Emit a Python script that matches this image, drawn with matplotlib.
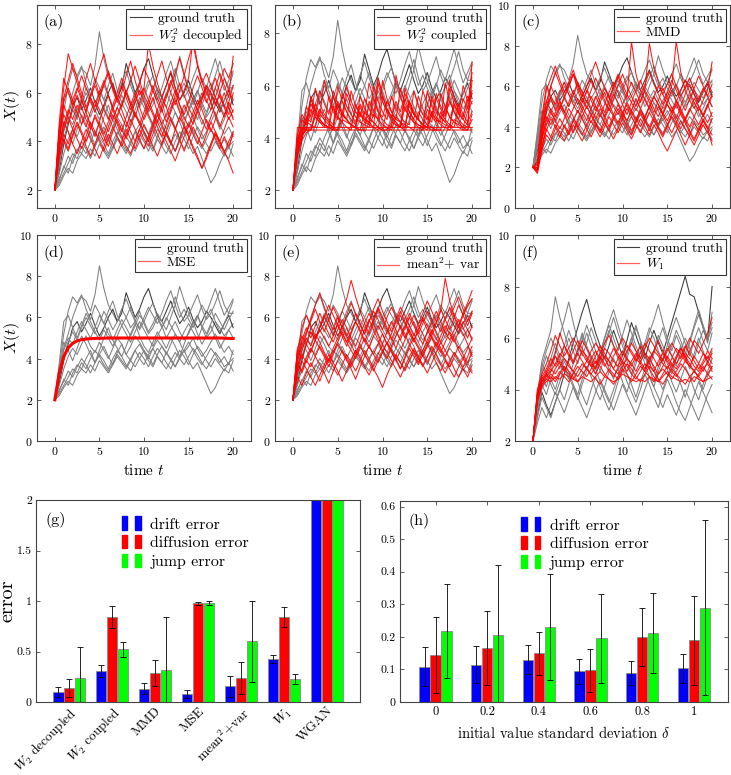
import numpy as np
import matplotlib
matplotlib.use("Agg")
import matplotlib.pyplot as plt
from matplotlib.lines import Line2D
from matplotlib.patches import Patch
from matplotlib.legend_handler import HandlerTuple

plt.rcParams['font.family'] = 'serif'
plt.rcParams['font.serif'] = ['cmr10']
plt.rcParams['mathtext.fontset'] = 'cm'
plt.rcParams['axes.formatter.use_mathtext'] = True

DT = 0.5  # sample spacing of the trajectories (time units)

# ---- trajectories, values x10, sampled every 0.5 time units on [0, 20] ----
# ground truth used in panels (a)-(e); index 1 is the dark one
gt_paths = [
    [20, 31, 45, 52, 60, 66, 70, 68, 63, 71, 85, 74, 66, 62, 58, 64, 60, 55, 58, 63, 57, 52, 55, 60, 56, 50, 54, 58, 53, 49, 52, 57, 61, 55, 50, 53, 58, 55, 51, 54, 57],
    [20, 28, 39, 47, 55, 58, 53, 57, 62, 56, 51, 55, 60, 64, 58, 62, 72, 66, 60, 64, 70, 74, 67, 61, 58, 63, 68, 62, 57, 60, 65, 59, 55, 58, 63, 60, 56, 52, 57, 61, 55],
    [20, 24, 30, 27, 33, 37, 35, 40, 44, 38, 42, 46, 41, 37, 43, 47, 42, 39, 44, 40, 37, 42, 45, 41, 38, 43, 40, 36, 41, 44, 39, 35, 38, 33, 28, 23, 26, 31, 35, 33, 39],
    [20, 36, 52, 63, 70, 67, 71, 64, 59, 66, 62, 57, 63, 68, 61, 56, 60, 65, 59, 54, 58, 63, 67, 60, 55, 59, 64, 70, 63, 58, 61, 66, 71, 64, 59, 62, 67, 73, 66, 62, 68],
    [20, 27, 35, 41, 45, 42, 47, 51, 46, 43, 48, 44, 40, 45, 50, 47, 42, 46, 51, 48, 44, 40, 45, 49, 46, 42, 47, 52, 48, 43, 46, 50, 45, 41, 44, 48, 52, 47, 43, 46, 42],
    [20, 33, 44, 50, 47, 53, 58, 54, 50, 55, 61, 57, 52, 49, 54, 59, 55, 51, 56, 61, 58, 53, 57, 62, 58, 54, 60, 66, 75, 68, 62, 57, 61, 56, 52, 57, 62, 58, 54, 59, 63],
    [20, 25, 29, 34, 31, 36, 40, 37, 33, 38, 42, 39, 35, 40, 44, 41, 37, 34, 39, 43, 40, 36, 41, 45, 42, 38, 35, 40, 44, 41, 37, 42, 46, 43, 39, 36, 40, 37, 34, 38, 34],
    [20, 30, 41, 48, 53, 49, 55, 60, 56, 52, 57, 63, 59, 54, 58, 64, 69, 63, 58, 55, 60, 65, 61, 57, 62, 68, 73, 66, 60, 64, 59, 55, 60, 66, 62, 68, 74, 67, 61, 65, 69],
    [20, 34, 48, 44, 39, 45, 51, 47, 42, 38, 44, 50, 55, 49, 45, 41, 46, 52, 57, 51, 46, 43, 48, 53, 49, 45, 50, 46, 41, 47, 53, 58, 52, 47, 51, 56, 50, 45, 49, 54, 50],
    [20, 23, 27, 31, 35, 33, 38, 35, 40, 44, 41, 37, 34, 38, 42, 39, 36, 40, 44, 47, 43, 39, 36, 41, 38, 35, 39, 43, 40, 37, 41, 45, 42, 38, 35, 39, 43, 40, 36, 38, 40],
    [20, 38, 58, 61, 55, 50, 56, 62, 58, 53, 49, 54, 50, 46, 51, 56, 52, 48, 53, 58, 54, 50, 46, 51, 55, 60, 56, 52, 48, 53, 57, 53, 49, 55, 60, 64, 58, 53, 57, 62, 62],
    [20, 22, 26, 29, 27, 32, 35, 33, 37, 34, 39, 36, 33, 37, 41, 38, 35, 39, 36, 40, 44, 41, 37, 42, 46, 43, 39, 36, 40, 44, 48, 44, 40, 37, 41, 45, 42, 38, 41, 37, 44],
]

# (a) W2^2 decoupled
red_a = [
    [20, 46, 62, 76, 70, 64, 58, 66, 72, 65, 59, 63, 68, 61, 56, 60, 67, 73, 65, 59, 62, 80, 71, 64, 58, 63, 69, 62, 57, 61, 66, 82, 72, 65, 60, 56, 62, 68, 63, 58, 75],
    [20, 33, 41, 37, 43, 48, 44, 40, 45, 50, 46, 42, 38, 44, 49, 45, 41, 47, 52, 48, 44, 40, 46, 51, 47, 43, 39, 45, 50, 46, 42, 37, 33, 29, 34, 39, 44, 40, 36, 32, 27],
    [20, 41, 55, 50, 45, 51, 57, 52, 47, 42, 48, 54, 59, 53, 48, 44, 50, 55, 60, 54, 49, 53, 58, 52, 47, 51, 56, 61, 55, 50, 46, 52, 57, 53, 48, 44, 49, 55, 60, 54, 49],
    [20, 37, 48, 44, 39, 35, 40, 45, 41, 37, 33, 38, 43, 39, 35, 40, 45, 41, 37, 42, 47, 43, 38, 34, 39, 44, 40, 36, 41, 46, 42, 38, 34, 29, 33, 38, 43, 39, 35, 40, 44],
    [20, 44, 58, 65, 72, 66, 60, 54, 59, 64, 70, 76, 68, 62, 57, 63, 58, 53, 58, 64, 70, 66, 61, 67, 73, 66, 60, 55, 61, 67, 74, 80, 71, 64, 68, 63, 58, 64, 70, 66, 72],
    [20, 39, 47, 53, 49, 55, 50, 46, 52, 57, 53, 48, 44, 49, 54, 50, 46, 51, 56, 61, 56, 51, 47, 53, 58, 54, 49, 45, 50, 55, 51, 47, 52, 57, 62, 56, 51, 46, 51, 56, 52],
    [20, 35, 43, 39, 45, 41, 37, 42, 48, 44, 40, 36, 41, 46, 42, 38, 43, 49, 45, 41, 37, 42, 47, 43, 39, 44, 49, 45, 41, 36, 41, 46, 42, 38, 43, 48, 44, 40, 45, 50, 46],
    [20, 48, 66, 60, 55, 61, 67, 62, 57, 52, 58, 64, 69, 63, 58, 54, 60, 65, 71, 65, 59, 55, 61, 56, 52, 58, 63, 68, 74, 67, 61, 57, 53, 58, 63, 59, 55, 60, 66, 61, 57],
    [20, 42, 51, 47, 53, 59, 54, 49, 45, 51, 47, 43, 48, 53, 58, 53, 48, 44, 40, 45, 50, 55, 51, 46, 42, 47, 52, 57, 52, 47, 43, 48, 53, 49, 45, 50, 55, 59, 54, 49, 53],
    [20, 38, 45, 51, 57, 62, 57, 52, 58, 54, 60, 65, 59, 54, 50, 55, 61, 56, 51, 47, 52, 57, 63, 58, 53, 48, 53, 59, 64, 59, 54, 50, 55, 60, 56, 61, 66, 60, 55, 51, 60],
    [20, 45, 40, 36, 42, 47, 43, 38, 34, 39, 44, 40, 46, 51, 47, 42, 38, 35, 40, 45, 41, 38, 43, 48, 44, 40, 36, 32, 37, 42, 47, 43, 39, 44, 49, 45, 41, 37, 42, 38, 43],
    [20, 43, 56, 62, 57, 52, 47, 53, 58, 63, 58, 53, 49, 55, 60, 66, 60, 55, 50, 56, 62, 57, 52, 48, 54, 59, 65, 60, 55, 51, 56, 62, 67, 62, 57, 53, 58, 54, 50, 56, 63],
]

# (b) W2^2 coupled
red_b = [
    [20, 39, 43, 43, 43, 43, 43, 43, 43, 43, 43, 43, 43, 43, 43, 43, 43, 43, 43, 43, 43, 43, 43, 43, 43, 43, 43, 43, 43, 43, 43, 43, 43, 43, 43, 43, 43, 43, 43, 43, 43],
    [20, 44, 44, 44, 44, 44, 44, 44, 44, 44, 44, 44, 44, 44, 44, 44, 44, 44, 44, 44, 44, 44, 44, 44, 44, 44, 44, 44, 44, 44, 44, 44, 44, 44, 44, 44, 44, 44, 44, 44, 44],
    [20, 35, 41, 43, 51, 48, 46, 44, 56, 51, 48, 46, 44, 43, 53, 49, 46, 45, 44, 61, 54, 50, 47, 45, 44, 52, 48, 46, 44, 43, 58, 52, 48, 46, 45, 44, 55, 50, 47, 45, 62],
    [20, 33, 39, 42, 43, 49, 47, 45, 44, 58, 53, 49, 47, 45, 44, 50, 47, 46, 55, 50, 47, 45, 44, 64, 56, 51, 48, 46, 45, 44, 51, 48, 46, 57, 52, 48, 46, 45, 44, 50, 54],
    [20, 37, 42, 48, 46, 53, 49, 47, 45, 44, 60, 54, 50, 47, 45, 52, 48, 46, 44, 43, 56, 51, 48, 46, 44, 59, 53, 49, 47, 45, 44, 50, 47, 46, 61, 54, 50, 47, 45, 44, 69],
    [20, 36, 41, 43, 55, 50, 47, 45, 44, 52, 48, 46, 57, 52, 48, 46, 45, 44, 49, 47, 62, 55, 50, 47, 46, 44, 54, 49, 47, 45, 44, 56, 51, 48, 46, 44, 53, 49, 60, 54, 58],
    [20, 38, 43, 46, 45, 44, 51, 48, 46, 44, 43, 47, 46, 45, 44, 43, 43, 54, 50, 47, 45, 44, 43, 48, 46, 45, 44, 43, 50, 47, 45, 44, 43, 43, 52, 48, 46, 44, 43, 43, 47],
    [20, 34, 40, 52, 48, 59, 53, 49, 47, 45, 54, 50, 47, 58, 52, 49, 47, 45, 60, 54, 50, 47, 56, 51, 48, 46, 45, 58, 52, 49, 47, 55, 50, 48, 46, 59, 53, 49, 47, 52, 65],
    [20, 40, 44, 43, 43, 48, 46, 45, 44, 43, 53, 49, 47, 45, 44, 43, 50, 47, 46, 44, 43, 43, 46, 45, 44, 55, 50, 47, 45, 44, 43, 49, 47, 45, 44, 43, 47, 46, 44, 43, 49],
    [20, 36, 47, 45, 56, 51, 48, 62, 55, 50, 47, 57, 52, 49, 46, 53, 49, 61, 55, 50, 48, 54, 50, 47, 59, 53, 50, 47, 56, 51, 48, 46, 57, 52, 49, 54, 50, 47, 55, 51, 57],
    [20, 35, 41, 44, 43, 50, 47, 45, 44, 43, 43, 49, 47, 45, 44, 56, 51, 48, 46, 44, 43, 51, 48, 46, 44, 43, 54, 50, 47, 45, 44, 43, 43, 50, 47, 45, 44, 53, 49, 46, 50],
    [20, 41, 49, 46, 53, 50, 58, 53, 49, 56, 51, 48, 60, 54, 50, 48, 55, 51, 48, 63, 56, 51, 48, 54, 50, 57, 52, 49, 47, 58, 53, 49, 55, 51, 48, 62, 55, 51, 48, 56, 53],
]

# (c) MMD
red_c = [
    [20, 18, 35, 52, 60, 55, 49, 54, 60, 66, 58, 52, 57, 63, 58, 52, 47, 53, 59, 65, 59, 54, 82, 66, 58, 53, 49, 55, 60, 56, 51, 47, 52, 58, 63, 57, 52, 48, 53, 58, 72],
    [20, 19, 30, 41, 47, 43, 39, 44, 49, 45, 40, 36, 41, 46, 42, 38, 44, 49, 45, 41, 46, 51, 47, 43, 48, 44, 40, 45, 50, 46, 41, 37, 42, 47, 43, 38, 34, 39, 44, 40, 36],
    [20, 22, 42, 58, 64, 70, 63, 57, 62, 68, 61, 55, 60, 66, 72, 65, 59, 54, 60, 66, 61, 56, 62, 57, 52, 58, 81, 69, 62, 56, 61, 66, 60, 55, 59, 64, 58, 53, 58, 62, 57],
    [20, 17, 28, 36, 33, 39, 44, 40, 36, 41, 37, 33, 38, 43, 39, 35, 40, 45, 41, 37, 42, 38, 34, 39, 44, 40, 36, 41, 37, 32, 28, 33, 38, 43, 39, 35, 31, 36, 41, 37, 33],
    [20, 20, 38, 49, 55, 51, 57, 62, 56, 51, 47, 52, 58, 53, 48, 54, 59, 55, 50, 46, 51, 56, 52, 48, 53, 58, 54, 49, 45, 50, 55, 60, 82, 67, 58, 53, 49, 54, 59, 55, 50],
    [20, 18, 33, 45, 41, 47, 52, 48, 44, 49, 54, 50, 46, 42, 47, 52, 57, 51, 46, 42, 47, 52, 48, 44, 40, 45, 50, 55, 51, 47, 43, 48, 53, 49, 44, 40, 45, 50, 46, 42, 47],
    [20, 21, 40, 53, 48, 43, 49, 55, 61, 66, 60, 54, 49, 55, 50, 45, 51, 57, 62, 57, 51, 46, 52, 58, 63, 57, 52, 47, 53, 59, 54, 49, 44, 50, 56, 61, 56, 50, 45, 51, 56],
    [20, 19, 31, 38, 44, 40, 35, 41, 37, 43, 48, 44, 39, 35, 40, 46, 42, 38, 34, 39, 44, 49, 45, 41, 37, 42, 47, 43, 39, 35, 40, 45, 41, 36, 31, 36, 42, 38, 43, 39, 31],
    [20, 20, 36, 47, 60, 67, 61, 55, 50, 56, 62, 57, 52, 58, 64, 59, 53, 48, 54, 60, 66, 60, 55, 50, 56, 61, 67, 61, 56, 51, 57, 63, 58, 53, 48, 54, 59, 65, 60, 55, 61],
    [20, 18, 34, 43, 49, 45, 50, 46, 41, 37, 43, 48, 53, 48, 44, 49, 45, 40, 46, 51, 47, 42, 38, 43, 49, 54, 49, 45, 41, 46, 51, 47, 43, 39, 44, 49, 45, 41, 46, 51, 45],
    [20, 23, 45, 60, 54, 48, 53, 47, 52, 58, 53, 48, 43, 49, 55, 50, 45, 50, 56, 52, 47, 43, 48, 54, 49, 44, 50, 55, 51, 46, 52, 58, 53, 48, 43, 48, 54, 50, 45, 50, 55],
    [20, 19, 29, 39, 35, 41, 37, 33, 38, 43, 39, 45, 50, 46, 41, 37, 42, 38, 44, 49, 45, 40, 36, 42, 47, 43, 38, 44, 40, 36, 41, 46, 51, 46, 42, 37, 33, 38, 43, 39, 44],
]

# (d) MSE: every predicted path collapses onto one curve
mse_path = [20.0, 33.0, 41.0, 45.2, 47.4, 48.6, 49.2, 49.5, 49.7, 49.8, 49.9, 49.9, 50.0, 50.0, 50.0, 50.0, 50.0, 50.0, 50.0, 50.0, 50.0,
            50.0, 50.0, 50.0, 50.0, 50.0, 50.0, 50.0, 50.0, 50.0, 50.0, 50.0, 50.0, 50.0, 50.0, 50.0, 50.0, 50.0, 49.9, 49.8, 49.8]

# (e) mean^2 + var
red_e = [
    [20, 44, 40, 47, 53, 49, 55, 61, 56, 51, 57, 63, 69, 78, 70, 63, 57, 52, 58, 64, 59, 54, 49, 55, 61, 57, 52, 48, 54, 60, 56, 51, 57, 63, 79, 68, 61, 56, 62, 67, 73],
    [20, 31, 27, 33, 38, 34, 29, 35, 40, 36, 32, 37, 42, 38, 34, 39, 44, 40, 35, 31, 26, 32, 37, 42, 38, 34, 39, 44, 40, 36, 41, 46, 42, 37, 33, 38, 43, 39, 35, 31, 37],
    [20, 39, 46, 52, 58, 64, 58, 53, 59, 65, 60, 55, 61, 67, 62, 57, 52, 58, 64, 69, 63, 58, 53, 59, 65, 61, 56, 51, 57, 62, 68, 63, 58, 53, 59, 65, 60, 55, 61, 66, 69],
    [20, 35, 42, 38, 44, 49, 45, 41, 36, 42, 47, 43, 39, 35, 30, 36, 41, 46, 42, 38, 43, 48, 44, 40, 35, 41, 46, 50, 46, 42, 38, 43, 48, 44, 40, 36, 41, 46, 42, 38, 43],
    [20, 42, 49, 55, 50, 56, 62, 57, 52, 48, 54, 59, 55, 50, 46, 52, 57, 62, 57, 52, 47, 53, 58, 54, 49, 55, 60, 56, 51, 47, 53, 58, 63, 58, 53, 49, 54, 59, 55, 50, 56],
    [20, 37, 33, 39, 36, 41, 46, 42, 38, 43, 48, 53, 48, 44, 40, 45, 50, 46, 42, 47, 52, 47, 43, 39, 44, 49, 54, 49, 45, 41, 46, 51, 47, 43, 48, 53, 49, 44, 40, 45, 50],
    [20, 40, 48, 53, 59, 66, 72, 65, 59, 54, 60, 55, 51, 56, 62, 57, 52, 58, 63, 59, 54, 60, 65, 60, 55, 50, 56, 61, 56, 52, 47, 53, 58, 64, 59, 54, 60, 66, 61, 56, 62],
    [20, 33, 39, 35, 31, 27, 32, 37, 42, 38, 34, 29, 34, 39, 44, 40, 36, 32, 37, 42, 47, 43, 39, 35, 31, 36, 41, 45, 41, 37, 33, 38, 43, 48, 44, 40, 35, 31, 36, 41, 46],
    [20, 45, 51, 47, 43, 49, 54, 50, 46, 51, 57, 52, 48, 53, 58, 54, 49, 45, 51, 56, 52, 47, 52, 58, 63, 58, 53, 49, 54, 59, 54, 50, 46, 51, 56, 52, 48, 53, 58, 54, 49],
    [20, 36, 44, 50, 46, 52, 48, 43, 39, 45, 50, 56, 51, 47, 42, 48, 54, 59, 54, 49, 44, 40, 46, 51, 56, 52, 47, 43, 38, 44, 49, 54, 50, 45, 41, 46, 51, 56, 52, 47, 41],
    [20, 43, 55, 61, 56, 50, 55, 60, 66, 61, 56, 51, 46, 52, 58, 53, 48, 54, 59, 65, 60, 55, 50, 45, 51, 56, 62, 57, 52, 57, 63, 58, 53, 48, 54, 60, 65, 70, 64, 58, 63],
    [20, 38, 34, 40, 45, 41, 37, 33, 28, 34, 39, 44, 40, 36, 41, 46, 42, 38, 34, 39, 43, 48, 44, 39, 35, 40, 45, 41, 37, 42, 47, 43, 38, 34, 39, 35, 31, 36, 40, 36, 33],
]

# (f) separate ground truth set (index 0 is the dark one) and W1 model
gt_f = [
    [20, 30, 39, 34, 30, 35, 40, 46, 52, 58, 64, 70, 75, 68, 62, 57, 52, 57, 63, 58, 53, 59, 66, 61, 56, 52, 58, 63, 58, 54, 60, 66, 72, 78, 84, 77, 76, 70, 64, 59, 80],
    [20, 38, 51, 57, 63, 76, 68, 62, 56, 50, 55, 61, 56, 51, 46, 52, 58, 63, 57, 52, 48, 54, 60, 65, 59, 53, 48, 54, 59, 64, 58, 53, 49, 55, 60, 56, 52, 58, 63, 59, 64],
    [20, 27, 33, 29, 34, 39, 35, 31, 36, 41, 37, 33, 29, 34, 39, 44, 40, 36, 32, 37, 42, 38, 34, 30, 35, 40, 45, 41, 37, 33, 38, 34, 30, 35, 40, 36, 32, 28, 33, 38, 42],
    [20, 35, 47, 53, 49, 55, 61, 67, 74, 66, 59, 53, 58, 64, 59, 54, 60, 66, 71, 65, 59, 54, 60, 55, 50, 56, 62, 67, 73, 66, 60, 55, 61, 57, 52, 58, 64, 69, 64, 58, 70],
    [20, 32, 42, 38, 44, 40, 46, 51, 47, 42, 38, 44, 49, 45, 40, 36, 41, 47, 52, 48, 43, 39, 45, 50, 55, 50, 45, 41, 47, 52, 48, 43, 39, 44, 49, 45, 40, 36, 42, 47, 52],
    [20, 36, 49, 55, 60, 56, 51, 57, 63, 58, 53, 59, 65, 60, 55, 50, 56, 62, 68, 62, 57, 52, 58, 64, 59, 54, 50, 55, 61, 57, 52, 57, 63, 59, 54, 59, 65, 71, 65, 60, 66],
    [20, 29, 37, 33, 29, 35, 40, 36, 42, 47, 43, 38, 34, 40, 45, 41, 36, 32, 37, 43, 48, 43, 39, 35, 40, 46, 42, 37, 33, 39, 44, 40, 35, 31, 28, 33, 38, 43, 39, 35, 31],
    [20, 34, 45, 41, 47, 53, 48, 54, 60, 55, 50, 56, 62, 57, 52, 47, 53, 48, 44, 49, 55, 51, 46, 52, 58, 53, 48, 43, 49, 55, 50, 46, 52, 57, 53, 48, 54, 60, 55, 50, 55],
    [20, 31, 40, 46, 42, 38, 43, 49, 45, 41, 36, 42, 47, 52, 48, 43, 39, 35, 40, 45, 51, 46, 42, 37, 43, 48, 53, 48, 44, 40, 45, 50, 46, 42, 37, 43, 48, 44, 40, 45, 49],
    [20, 37, 50, 46, 52, 58, 53, 48, 44, 50, 56, 62, 57, 52, 48, 54, 60, 65, 60, 55, 61, 67, 62, 57, 52, 58, 64, 60, 55, 51, 57, 63, 68, 63, 58, 53, 59, 64, 59, 55, 62],
]
red_f = [
    [20, 38, 43, 45, 47, 50, 54, 52, 49, 47, 51, 55, 53, 50, 48, 52, 56, 54, 51, 49, 53, 57, 55, 52, 50, 47, 51, 55, 53, 50, 48, 52, 56, 54, 51, 55, 59, 57, 54, 52, 56],
    [20, 36, 42, 44, 43, 45, 44, 46, 45, 44, 43, 45, 44, 43, 45, 47, 45, 44, 43, 44, 46, 45, 44, 43, 44, 43, 45, 44, 43, 45, 47, 45, 44, 43, 44, 43, 45, 44, 43, 44, 45],
    [20, 40, 46, 50, 55, 61, 57, 53, 56, 60, 57, 54, 51, 55, 58, 55, 52, 49, 53, 56, 60, 57, 54, 51, 54, 58, 55, 52, 49, 52, 56, 53, 50, 53, 57, 54, 51, 48, 51, 55, 52],
    [20, 37, 43, 46, 44, 48, 51, 48, 46, 44, 47, 50, 48, 46, 49, 53, 50, 47, 45, 48, 51, 49, 46, 44, 47, 50, 48, 45, 43, 46, 49, 47, 45, 48, 51, 49, 47, 45, 48, 50, 47],
    [20, 39, 45, 48, 52, 49, 53, 57, 54, 51, 55, 59, 56, 53, 50, 54, 58, 61, 57, 54, 51, 55, 58, 55, 52, 56, 60, 57, 54, 51, 55, 58, 55, 52, 56, 60, 57, 54, 58, 62, 68],
    [20, 35, 41, 43, 45, 43, 46, 49, 47, 45, 43, 46, 48, 46, 44, 42, 45, 48, 46, 44, 47, 50, 48, 45, 43, 46, 49, 47, 44, 42, 45, 48, 46, 44, 42, 45, 47, 45, 43, 46, 44],
    [20, 38, 44, 47, 50, 54, 62, 57, 53, 50, 54, 51, 48, 52, 55, 52, 49, 52, 56, 53, 50, 47, 51, 54, 51, 48, 52, 55, 59, 55, 52, 49, 53, 56, 52, 49, 53, 50, 47, 51, 54],
    [20, 37, 43, 45, 48, 46, 49, 52, 50, 47, 45, 48, 51, 49, 46, 50, 53, 51, 48, 46, 49, 52, 50, 47, 51, 54, 52, 49, 46, 49, 53, 50, 48, 51, 54, 52, 49, 47, 50, 53, 50],
    [20, 39, 44, 46, 49, 53, 50, 47, 51, 55, 59, 56, 52, 49, 53, 57, 54, 51, 48, 52, 55, 52, 49, 53, 57, 54, 50, 47, 51, 54, 51, 48, 52, 56, 53, 50, 47, 50, 54, 51, 48],
    [20, 36, 42, 44, 46, 44, 47, 45, 43, 46, 49, 47, 45, 48, 51, 49, 46, 44, 42, 45, 48, 46, 43, 46, 49, 47, 45, 43, 46, 48, 46, 44, 47, 50, 48, 45, 43, 46, 49, 46, 49],
]

# ---- bar data ----
methods = ["$W_2$ decoupled", "$W_2$ coupled", "MMD", "MSE", "mean$^2$+var", "$W_1$", "WGAN"]
g_drift = [0.10, 0.31, 0.13, 0.08, 0.155, 0.43, 4.0]
g_drift_err = [0.05, 0.06, 0.055, 0.04, 0.105, 0.04, 1.5]
g_diff = [0.14, 0.84, 0.29, 0.98, 0.24, 0.84, 4.2]
g_diff_err = [0.09, 0.11, 0.13, 0.015, 0.16, 0.10, 1.5]
g_jump = [0.24, 0.52, 0.32, 0.98, 0.60, 0.23, 4.1]
g_jump_err = [0.30, 0.07, 0.52, 0.02, 0.40, 0.05, 1.5]

deltas = [0, 0.2, 0.4, 0.6, 0.8, 1]
h_drift = [0.108, 0.115, 0.130, 0.094, 0.090, 0.103]
h_drift_err = [0.060, 0.058, 0.045, 0.039, 0.037, 0.045]
h_diff = [0.145, 0.166, 0.149, 0.097, 0.200, 0.189]
h_diff_err = [0.117, 0.113, 0.067, 0.066, 0.090, 0.136]
h_jump = [0.218, 0.207, 0.230, 0.195, 0.213, 0.290]
h_jump_err = [0.143, 0.213, 0.162, 0.136, 0.123, 0.270]

# ---- layout (pixel boxes: left, top, right, bottom) ----
W, H = 731, 775
fig = plt.figure(figsize=(W / 100, H / 100), dpi=100)


def ax_px(l, t, r, b):
    return fig.add_axes([l / W, 1 - b / H, (r - l) / W, (b - t) / H])


def style(ax):
    for s in ax.spines.values():
        s.set_color('#444444')
        s.set_linewidth(0.8)
    ax.tick_params(direction='in', top=True, right=True, length=3, width=0.6,
                   color='#444444', labelsize=8.5, pad=3)


def line_panel(ax, gt, dark, model, label, tag, ylim, yticks):
    for i, p in enumerate(gt):
        p = np.array(p) / 10
        ax.plot(np.arange(len(p)) * DT, p, color='0.22' if i == dark else '0.5', lw=0.75)
    for p in model:
        p = np.array(p) / 10
        ax.plot(np.arange(len(p)) * DT, p, color='red', lw=0.75, alpha=0.9)
    ax.set_xlim(-2, 22)
    ax.set_ylim(*ylim)
    ax.set_xticks([0, 5, 10, 15, 20])
    ax.set_yticks(yticks)
    style(ax)
    ax.text(0.03, 0.915, tag, transform=ax.transAxes, fontsize=11.5, va='center')
    hs = [Line2D([], [], color='0.25', lw=0.8), Line2D([], [], color='#ff6060', lw=0.9)]
    leg = ax.legend(hs, ["ground truth", label], loc='upper right', fontsize=9.8,
                    fancybox=False, edgecolor='#333333', framealpha=1,
                    borderaxespad=0.3, borderpad=0.25, labelspacing=0.1,
                    handlelength=1.6, handletextpad=0.5)
    leg.get_frame().set_linewidth(0.8)


ax_a = ax_px(37, 5, 251, 208)
ax_b = ax_px(275, 5, 490, 208)
ax_c = ax_px(515, 5, 730, 208)
ax_d = ax_px(37, 235, 251, 441)
ax_e = ax_px(275, 235, 490, 441)
ax_f = ax_px(515, 235, 730, 441)

line_panel(ax_a, gt_paths, 1, red_a, "$W_2^2$ decoupled", "(a)", (1.27, 9.6), [2, 4, 6, 8])
line_panel(ax_b, gt_paths, 1, red_b, "$W_2^2$ coupled", "(b)", (1.32, 9.08), [2, 4, 6, 8])
line_panel(ax_c, gt_paths, 1, red_c, "MMD", "(c)", (0, 10), [0, 2, 4, 6, 8, 10])
line_panel(ax_d, gt_paths, 1, [], "MSE", "(d)", (0, 10), [0, 2, 4, 6, 8, 10])
mse = np.array(mse_path) / 10
ax_d.plot(np.arange(len(mse)) * DT, mse, color='red', lw=2.2)
line_panel(ax_e, gt_paths, 1, red_e, "mean$^2$+ var", "(e)", (0, 10), [0, 2, 4, 6, 8, 10])
line_panel(ax_f, gt_f, 0, red_f, "$W_1$", "(f)", (2, 10), [2, 4, 6, 8, 10])

for ax in (ax_a, ax_d):
    ax.set_ylabel("$X(t)$", fontsize=11.5)
    ax.yaxis.set_label_coords(-0.07, 0.5)
for ax in (ax_d, ax_e, ax_f):
    ax.set_xlabel("time $t$", fontsize=11, labelpad=4)

# ---- bar panels ----
cols = ['#0000ff', '#ff0000', '#00ff00']
edge = '#8a8a8a'


def bars(ax, x, series, errs, width, step):
    for k, (vals, err) in enumerate(zip(series, errs)):
        xs = np.array(x) + (k - 1) * step
        ax.bar(xs, vals, width=width, color=cols[k], edgecolor=edge, linewidth=0.6, zorder=2)
        ax.errorbar(xs, vals, yerr=err, fmt='none', ecolor='black', elinewidth=0.6,
                    capsize=2.2, capthick=0.6, zorder=3)


def bar_legend(ax, anchor):
    hs = [(Patch(color=c), Patch(color=c)) for c in cols]
    ax.legend(hs, ["drift error", "diffusion error", "jump error"], loc='upper left',
              bbox_to_anchor=anchor, frameon=False, fontsize=11.5,
              handler_map={tuple: HandlerTuple(ndivide=None, pad=0.5)},
              handlelength=1.2, handleheight=0.9, handletextpad=0.6, labelspacing=0.22)


ax_g = ax_px(36, 500, 360, 702)
xg = np.arange(len(methods))
bars(ax_g, xg, [g_drift, g_diff, g_jump], [g_drift_err, g_diff_err, g_jump_err], 0.235, 0.247)
ax_g.set_xlim(-0.77, len(methods) - 0.23)
ax_g.set_ylim(0, 2)
ax_g.set_yticks([0, 0.5, 1, 1.5, 2])
ax_g.set_yticklabels(["0", "0.5", "1", "1.5", "2"])
ax_g.set_xticks(xg)
style(ax_g)
ax_g.tick_params(axis='x', length=0, top=False, pad=2)
ax_g.set_xticklabels(methods, rotation=45, ha='right', rotation_mode='anchor', fontsize=9.6)
ax_g.set_ylabel("error", fontsize=14.5)
ax_g.yaxis.set_label_coords(-0.06, 0.5)
ax_g.text(0.03, 0.9, "(g)", transform=ax_g.transAxes, fontsize=11.5, va='center')
bar_legend(ax_g, (0.22, 0.99))

ax_h = ax_px(400, 501, 728, 702)
bars(ax_h, deltas, [h_drift, h_diff, h_jump], [h_drift_err, h_diff_err, h_jump_err], 0.04, 0.0426)
ax_h.set_xlim(-0.138, 1.133)
ax_h.set_ylim(0, 0.617)
ax_h.set_xticks(deltas)
ax_h.set_xticklabels(["0", "0.2", "0.4", "0.6", "0.8", "1"])
ax_h.set_yticks([0, 0.1, 0.2, 0.3, 0.4, 0.5, 0.6])
ax_h.set_yticklabels(["0", "0.1", "0.2", "0.3", "0.4", "0.5", "0.6"])
style(ax_h)
ax_h.tick_params(axis='x', labelsize=9)
ax_h.set_xlabel("initial value standard deviation $\\delta$", fontsize=10.5, labelpad=5)
ax_h.text(0.025, 0.9, "(h)", transform=ax_h.transAxes, fontsize=11.5, va='center')
bar_legend(ax_h, (0.325, 0.99))

fig.savefig("out.png", dpi=100)
